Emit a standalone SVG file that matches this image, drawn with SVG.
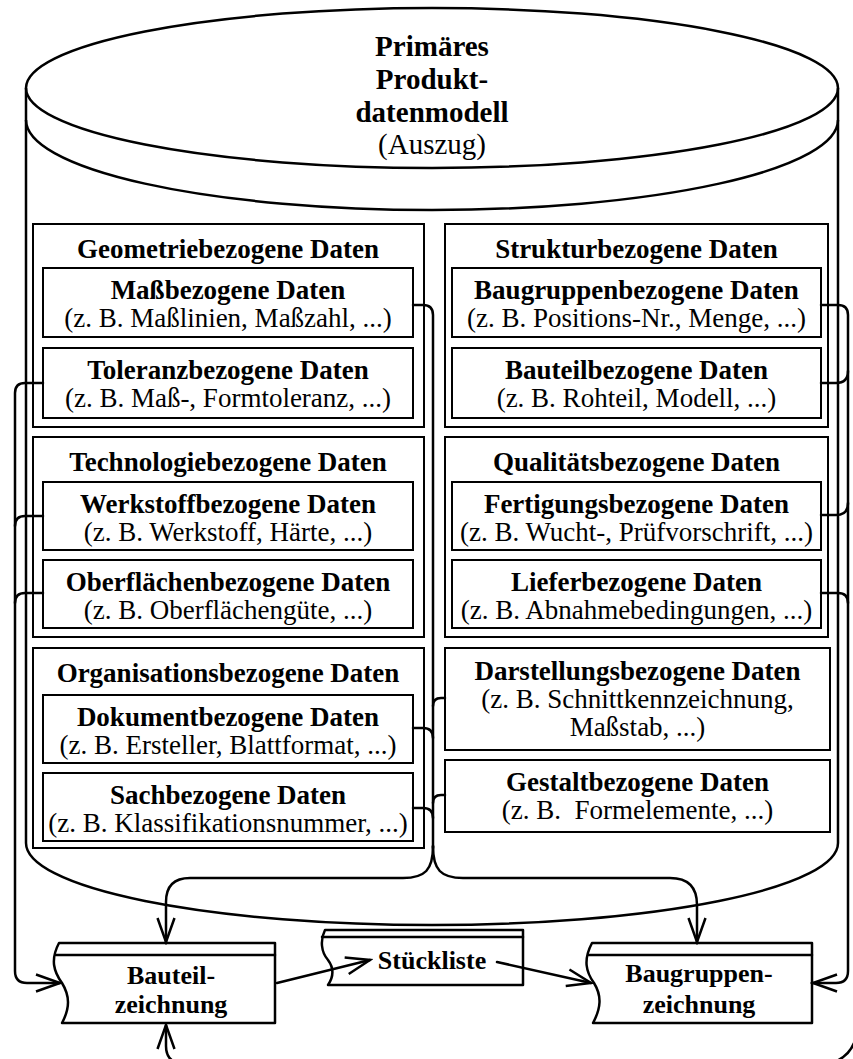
<svg xmlns="http://www.w3.org/2000/svg" width="853" height="1059" viewBox="0 0 853 1059">
  <style>
    .box { fill: #fff; stroke: #000; stroke-width: 2; }
    .doc { fill: #fff; stroke: #000; stroke-width: 2.5; stroke-linejoin: round; }
    .cyl { fill: none; stroke: #000; stroke-width: 2.5; }
    .t { font-family: "Liberation Serif", "Times New Roman", serif; font-size: 27px; text-anchor: middle; fill: #000; }
    .b { font-weight: bold; }
    .big { font-size: 29px; }
    .d { font-size: 26px; }
    .ln { fill: none; stroke: #000; stroke-width: 2.5; stroke-linejoin: round; stroke-linecap: round; }
    .arr { marker-end: url(#ah); }
  </style>
  <defs>
    <marker id="ah" viewBox="-27 -11 30 22" refX="0" refY="0" markerWidth="30" markerHeight="22" markerUnits="userSpaceOnUse" orient="auto">
      <path d="M -24 -8.5 L 0 0 L -24 8.5" fill="none" stroke="#000" stroke-width="2.5" stroke-linejoin="miter"/>
    </marker>
  </defs>
  <rect width="853" height="1059" fill="#fff"/>

  <!-- database cylinder -->
  <g id="datenmodell">
    <path class="cyl" d="M 26 88 L 26 843 A 406 82 0 0 0 838 843 L 838 88"/>
    <ellipse class="cyl" cx="432" cy="88" rx="406" ry="80"/>
    <path class="cyl" d="M 26 120 A 406 90 0 0 0 838 120"/>
    <text class="t b big" x="432" y="56">Primäres</text>
    <text class="t b big" x="432" y="89">Produkt-</text>
    <text class="t b big" x="432" y="122">datenmodell</text>
    <text class="t big" x="432" y="154">(Auszug)</text>
  </g>

  <!-- left column -->
  <g id="geometrie">
    <rect class="box" x="33" y="224" width="391" height="203"/>
    <text class="t b" x="228" y="258">Geometriebezogene Daten</text>
  </g>
  <g id="mass">
    <rect class="box" x="43" y="268" width="370" height="69"/>
    <text class="t b" x="228" y="299">Maßbezogene Daten</text>
    <text class="t" x="228" y="327">(z. B. Maßlinien, Maßzahl, ...)</text>
  </g>
  <g id="toleranz">
    <rect class="box" x="43" y="348" width="370" height="70"/>
    <text class="t b" x="228" y="379">Toleranzbezogene Daten</text>
    <text class="t" x="228" y="407">(z. B. Maß-, Formtoleranz, ...)</text>
  </g>

  <g id="technologie">
    <rect class="box" x="33" y="437" width="391" height="200"/>
    <text class="t b" x="228" y="471">Technologiebezogene Daten</text>
  </g>
  <g id="werkstoff">
    <rect class="box" x="43" y="482" width="370" height="68"/>
    <text class="t b" x="228" y="513">Werkstoffbezogene Daten</text>
    <text class="t" x="228" y="541">(z. B. Werkstoff, Härte, ...)</text>
  </g>
  <g id="oberflaeche">
    <rect class="box" x="43" y="560" width="370" height="68"/>
    <text class="t b" x="228" y="591">Oberflächenbezogene Daten</text>
    <text class="t" x="228" y="619">(z. B. Oberflächengüte, ...)</text>
  </g>

  <g id="organisation">
    <rect class="box" x="33" y="648" width="391" height="200"/>
    <text class="t b" x="228" y="682">Organisationsbezogene Daten</text>
  </g>
  <g id="dokument">
    <rect class="box" x="43" y="695" width="370" height="68"/>
    <text class="t b" x="228" y="726">Dokumentbezogene Daten</text>
    <text class="t" x="228" y="754">(z. B. Ersteller, Blattformat, ...)</text>
  </g>
  <g id="sach">
    <rect class="box" x="43" y="773" width="370" height="68"/>
    <text class="t b" x="228" y="804">Sachbezogene Daten</text>
    <text class="t" x="228" y="832">(z. B. Klassifikationsnummer, ...)</text>
  </g>

  <!-- right column -->
  <g id="struktur">
    <rect class="box" x="445" y="224" width="383" height="203"/>
    <text class="t b" x="636.5" y="258">Strukturbezogene Daten</text>
  </g>
  <g id="baugruppe">
    <rect class="box" x="452" y="268" width="369" height="69"/>
    <text class="t b" x="636.5" y="299">Baugruppenbezogene Daten</text>
    <text class="t" x="636.5" y="327">(z. B. Positions-Nr., Menge, ...)</text>
  </g>
  <g id="bauteil">
    <rect class="box" x="452" y="348" width="369" height="70"/>
    <text class="t b" x="636.5" y="379">Bauteilbezogene Daten</text>
    <text class="t" x="636.5" y="407">(z. B. Rohteil, Modell, ...)</text>
  </g>

  <g id="qualitaet">
    <rect class="box" x="445" y="437" width="383" height="200"/>
    <text class="t b" x="636.5" y="471">Qualitätsbezogene Daten</text>
  </g>
  <g id="fertigung">
    <rect class="box" x="452" y="482" width="369" height="68"/>
    <text class="t b" x="636.5" y="513">Fertigungsbezogene Daten</text>
    <text class="t" x="636.5" y="541">(z. B. Wucht-, Prüfvorschrift, ...)</text>
  </g>
  <g id="liefer">
    <rect class="box" x="452" y="560" width="369" height="68"/>
    <text class="t b" x="636.5" y="591">Lieferbezogene Daten</text>
    <text class="t" x="636.5" y="619">(z. B. Abnahmebedingungen, ...)</text>
  </g>

  <g id="darstellung">
    <rect class="box" x="445" y="648" width="385" height="102"/>
    <text class="t b" x="637.5" y="680">Darstellungsbezogene Daten</text>
    <text class="t" x="637.5" y="708">(z. B. Schnittkennzeichnung,</text>
    <text class="t" x="637.5" y="736">Maßstab, ...)</text>
  </g>
  <g id="gestalt">
    <rect class="box" x="445" y="760" width="385" height="72"/>
    <text class="t b" x="637.5" y="791">Gestaltbezogene Daten</text>
    <text class="t" x="637.5" y="819">(z. B.&#160; Formelemente, ...)</text>
  </g>

  <!-- output documents -->
  <g id="bauteilzeichnung">
    <path class="doc" d="M 59 943 L 275 943 L 275 1023 L 62 1023 C 70 1008, 70 996, 62 983 C 54 972, 50 960, 59 943 Z"/>
    <path class="ln" d="M 56 955 L 275 955"/>
    <text class="t b d" x="171" y="984">Bauteil-</text>
    <text class="t b d" x="171" y="1013">zeichnung</text>
  </g>
  <g id="stueckliste">
    <path class="doc" d="M 325 930 L 523 930 L 523 985 L 328 985 C 334 976, 334 968, 328 960 C 321 952, 320 940, 325 930 Z"/>
    <path class="ln" d="M 322 937 L 523 937"/>
    <text class="t b d" x="432" y="969">Stückliste</text>
  </g>
  <g id="baugruppenzeichnung">
    <path class="doc" d="M 592 943 L 812 943 L 812 1023 L 593 1023 C 601 1008, 602 996, 594 983 C 586 972, 583 960, 592 943 Z"/>
    <path class="ln" d="M 589 955 L 812 955"/>
    <text class="t b d" x="699" y="982">Baugruppen-</text>
    <text class="t b d" x="699" y="1013">zeichnung</text>
  </g>

  <!-- connectors -->
  <g id="connectors">
    <!-- left bundle into Bauteilzeichnung -->
    <path class="ln arr" d="M 43 383 L 25 383 Q 15 383 15 393 L 15 971 Q 15 983 27 983 L 60 983"/>
    <path class="ln" d="M 43 516 L 25 516 Q 15 516 15 526"/>
    <path class="ln" d="M 43 593 L 25 593 Q 15 593 15 603"/>

    <!-- right bundle into Baugruppenzeichnung -->
    <path class="ln arr" d="M 821 305 L 838 305 Q 848 305 848 315 L 848 971 Q 848 983 836 983 L 813 983"/>
    <path class="ln" d="M 821 383 L 836 383 Q 848 383 848 371"/>
    <path class="ln" d="M 821 515 L 836 515 Q 848 515 848 503"/>
    <path class="ln" d="M 821 593 L 838 593 Q 848 593 848 603"/>

    <!-- middle bundle splitting to both drawings -->
    <path class="ln" d="M 413 305 L 423 305 Q 433 305 433 315 L 433 848"/>
    <path class="ln" d="M 413 728 L 423 728 Q 433 728 433 738"/>
    <path class="ln" d="M 413 808 L 423 808 Q 433 808 433 818"/>
    <path class="ln" d="M 445 698 L 441 698 Q 433 698 433 706"/>
    <path class="ln" d="M 445 795 L 441 795 Q 433 795 433 803"/>
    <path class="ln arr" d="M 433 846 C 433 870, 425 878, 403 878 L 190 878 Q 166 878 166 902 L 166 942"/>
    <path class="ln arr" d="M 433 846 C 433 870, 441 878, 463 878 L 670 878 Q 697 878 697 905 L 697 942"/>

    <!-- document flow -->
    <path class="ln arr" d="M 277 983 L 370 960"/>
    <path class="ln arr" d="M 497 962 L 591 983"/>

    <!-- return path into Bauteilzeichnung from below -->
    <path class="ln arr" d="M 857 1034 Q 851 1060 826 1064 L 186 1064 Q 166 1064 166 1046 L 166 1025"/>
  </g>
</svg>
